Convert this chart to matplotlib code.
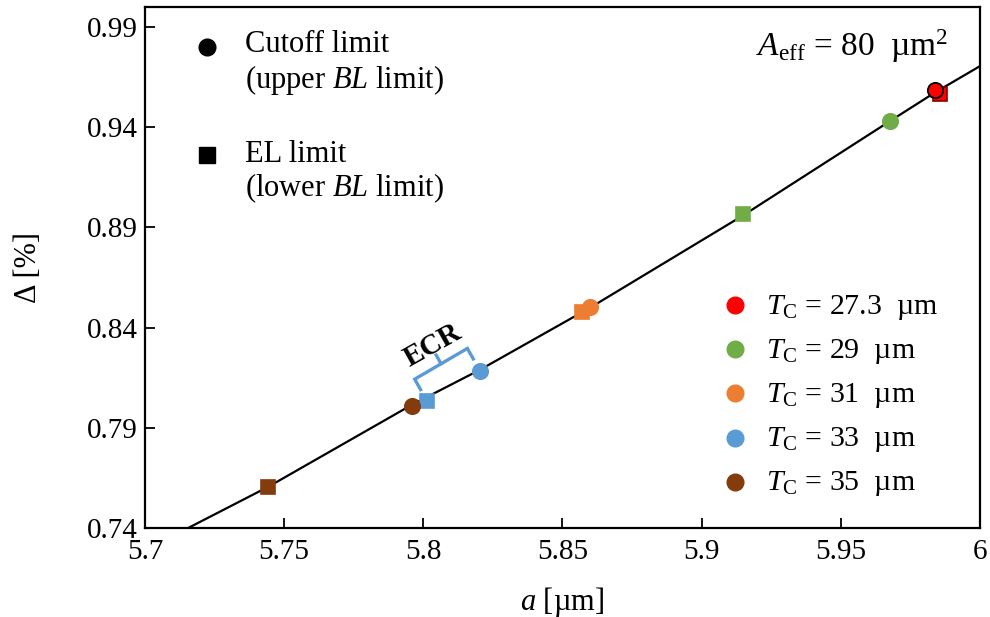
import matplotlib
matplotlib.use("Agg")
import matplotlib.pyplot as plt
import numpy as np

plt.rcParams['font.family'] = ['Liberation Serif', 'DejaVu Serif']
plt.rcParams['mathtext.fontset'] = 'custom'
plt.rcParams['mathtext.rm'] = 'Liberation Serif'
plt.rcParams['mathtext.it'] = 'Liberation Serif:italic'
plt.rcParams['mathtext.bf'] = 'Liberation Serif:bold'

# data
tc_labels = ["27.3", "29", "31", "33", "35"]
colors = ["#FF0000", "#70AD47", "#ED7D31", "#5B9BD5", "#843C0C"]
# cutoff limit (circles)
a_cut = [5.984, 5.9677, 5.860, 5.8204, 5.7959]
d_cut = [0.9586, 0.9431, 0.8503, 0.8183, 0.8009]
# EL limit (squares)
a_el = [5.9857, 5.9149, 5.857, 5.8013, 5.7442]
d_el = [0.9566, 0.8967, 0.8478, 0.8034, 0.7605]
# black curve
a_line = [5.7155, 5.7442, 5.7959, 5.8204, 5.860, 5.9149, 5.9677, 5.984, 6.0]
d_line = [0.7400, 0.7605, 0.8015, 0.8190, 0.8500, 0.8960, 0.9431, 0.9575, 0.9705]

W, H = 990, 617
fig = plt.figure(figsize=(9.9, 6.17), dpi=100)
ax = fig.add_axes([145/W, 1-528/H, 835/W, 521/H])

ax.plot(a_line, d_line, color='black', lw=1.6, zorder=2)

for i, c in enumerate(colors):
    ec = 'black' if i == 0 else c
    ec_sq = '#8B0000' if i == 0 else c
    ax.plot(a_el[i], d_el[i], 's', color=c, mec=ec_sq, mew=1.2, ms=10.5, zorder=3)
    ax.plot(a_cut[i], d_cut[i], 'o', color=c, mec=ec, mew=1.3, ms=11, zorder=4)

ax.set_xlim(5.7, 6.0)
ax.set_ylim(0.74, 1.0)
ax.set_xticks([5.7, 5.75, 5.8, 5.85, 5.9, 5.95, 6.0])
ax.set_xticklabels(["5.7", "5.75", "5.8", "5.85", "5.9", "5.95", "6"])
ax.set_yticks([0.74, 0.79, 0.84, 0.89, 0.94, 0.99])
ax.tick_params(direction='in', length=7, width=1.3, labelsize=21)
ax.tick_params(axis='x', pad=8)
ax.tick_params(axis='y', pad=5)
for s in ax.spines.values():
    s.set_linewidth(1.6)

ax.set_xlabel(r"$\it{a}$ [µm]", fontsize=22, labelpad=14)
ax.set_ylabel("Δ [%]", fontsize=22, labelpad=32)

# figure-pixel helper for the hand-placed legends
def fx(px):
    return px / W

def fy(py):
    return 1 - py / H

# marker-shape legend (top left)
fig.lines.append(plt.Line2D([fx(207)], [fy(47)], marker='o', ls='', color='black',
                            ms=12, transform=fig.transFigure))
fig.lines.append(plt.Line2D([fx(207)], [fy(155)], marker='s', ls='', color='black',
                            ms=11, transform=fig.transFigure))
fig.text(fx(245), fy(45), "Cutoff limit", fontsize=22, va='center')
fig.text(fx(245), fy(80), "(upper $\\it{BL}$ limit)", fontsize=22, va='center')
fig.text(fx(245), fy(155), "EL limit", fontsize=22, va='center')
fig.text(fx(245), fy(188), "(lower $\\it{BL}$ limit)", fontsize=22, va='center')

# thickness legend (bottom right)
for i, (c, t) in enumerate(zip(colors, tc_labels)):
    yy = 305 + i * 44.2
    fig.lines.append(plt.Line2D([fx(735)], [fy(yy)], marker='o', ls='', color=c,
                                ms=12, transform=fig.transFigure))
    fig.text(fx(766), fy(yy + 2), "$T_\\mathrm{C}$ = %s  µm" % t, fontsize=21.5,
             va='center')

ax.text(0.962, 0.925, "$A_\\mathrm{eff}$ = 80  µm$^2$", transform=ax.transAxes,
        ha='right', va='center', fontsize=24)

# ECR bracket built from the two blue points (pixel offsets)
fig.canvas.draw()
p1 = ax.transData.transform((a_el[3], d_el[3]))
p2 = ax.transData.transform((a_cut[3], d_cut[3]))
u = (p2 - p1) / np.hypot(*(p2 - p1))
n = np.array([-u[1], u[0]])
if n[1] < 0:
    n = -n
q1 = p1 + 13 * n
q2 = p2 + 14 * n
c1 = p1 + 25 * n
c2 = p2 + 26 * n
mid = (c1 + c2) / 2
nub = mid + 10 * n
inv = ax.transData.inverted()
pd = inv.transform(np.array([q1, c1, c2, q2]))
ax.plot(pd[:, 0], pd[:, 1], color='#5B9BD5', lw=2.4, solid_joinstyle='miter', zorder=3)
nd = inv.transform(np.array([mid, nub]))
ax.plot(nd[:, 0], nd[:, 1], color='#5B9BD5', lw=2.4, zorder=3)
tpos = inv.transform((p1 + p2) / 2 + 46 * n + 1.5 * u)
ang = np.degrees(np.arctan2(u[1], u[0]))
ax.text(tpos[0], tpos[1], "ECR", fontsize=21, fontweight='bold', rotation=ang,
        ha='center', va='center', rotation_mode='anchor')

fig.savefig("out.png", dpi=100)
